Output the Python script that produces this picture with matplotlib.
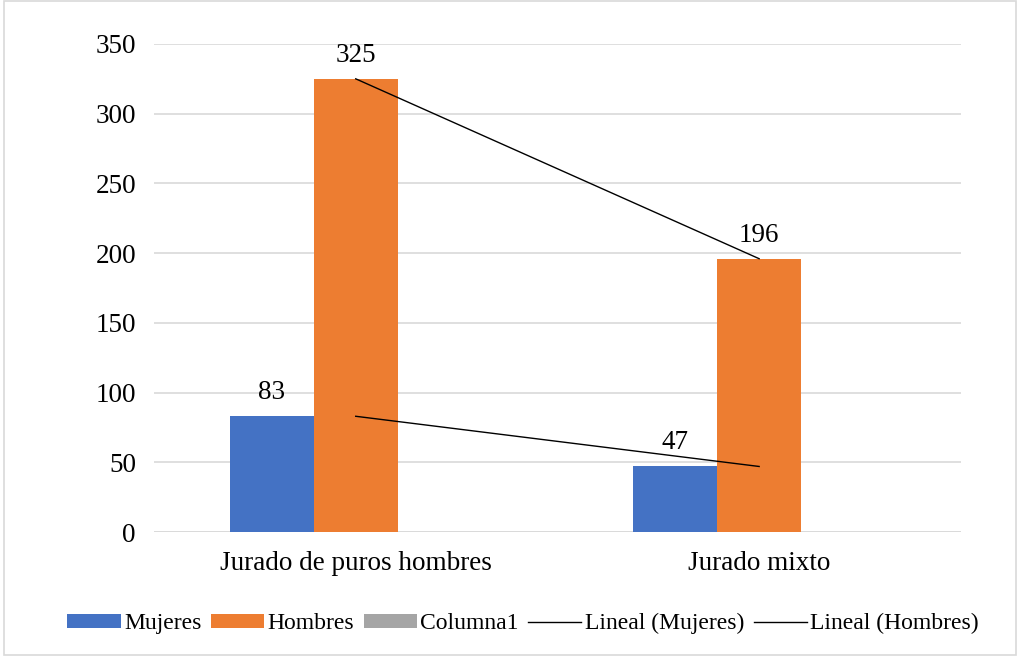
import numpy as np
import matplotlib
matplotlib.use('Agg')
from matplotlib import pyplot as plt
from matplotlib.patches import Rectangle

categorias = ['Jurado de puros hombres', 'Jurado mixto']
mujeres = [83, 47]
hombres = [325, 196]
columna1 = [0, 0]

plt.rcParams['font.family'] = ['Liberation Serif', 'DejaVu Serif']

fig = plt.figure(figsize=(10.2, 6.56), dpi=100)
ax = fig.add_axes([0.151, 0.189, 0.791, 0.744])

x = np.arange(len(categorias))
w = 0.208
azul = '#4472C4'
naranja = '#ED7D31'
gris = '#A5A5A5'

b1 = ax.bar(x - w, mujeres, w, color=azul, label='Mujeres', zorder=2)
b2 = ax.bar(x, hombres, w, color=naranja, label='Hombres', zorder=2)
b3 = ax.bar(x + w, columna1, w, color=gris, label='Columna1', zorder=2)

# etiquetas de datos
for i in range(len(x)):
    ax.text(x[i] - w, mujeres[i] + 8, str(mujeres[i]), ha='center', va='bottom', fontsize=19.5)
    ax.text(x[i], hombres[i] + 8, str(hombres[i]), ha='center', va='bottom', fontsize=19.5)

# lineas de tendencia
pm = np.polyfit(x, mujeres, 1)
ph = np.polyfit(x, hombres, 1)
l1, = ax.plot(x, np.polyval(pm, x), color='black', lw=1, label='Lineal (Mujeres)', zorder=3)
l2, = ax.plot(x, np.polyval(ph, x), color='black', lw=1, label='Lineal (Hombres)', zorder=3)

ax.set_xlim(-0.5, 1.5)
ax.set_ylim(0, 350)
ax.set_yticks(range(0, 351, 50))
ax.set_xticks(x)
ax.set_xticklabels(categorias)
ax.tick_params(axis='both', length=0, labelsize=19.5)
ax.tick_params(axis='y', pad=13)
ax.tick_params(axis='x', pad=14)
ax.yaxis.grid(True, color='#D9D9D9', lw=1.2, zorder=0)
for s in ax.spines.values():
    s.set_visible(False)
ax.axhline(0, color='#D9D9D9', lw=1.2, zorder=1)

fig.legend(handles=[b1, b2, b3, l1, l2], loc='center', bbox_to_anchor=(0.513, 0.049),
           ncol=5, frameon=False, fontsize=17, handlelength=2.25, handletextpad=0.15,
           columnspacing=0.4, handleheight=0.5)

fig.add_artist(Rectangle((0.004, 0.002), 0.992, 0.996, transform=fig.transFigure,
                         fill=False, edgecolor='#D9D9D9', lw=1.2))

fig.savefig('out.png', dpi=100)
